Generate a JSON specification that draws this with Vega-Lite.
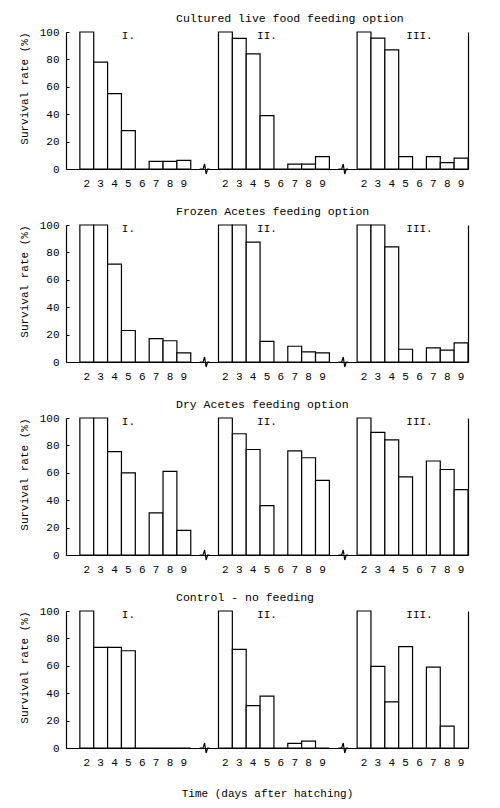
{
  "$schema": "https://vega.github.io/schema/vega-lite/v6.json",
  "background": "white",
  "padding": {"left": 18, "top": 12, "right": 5, "bottom": 5},
  "spacing": 17,
  "config": {
    "font": "Liberation Mono",
    "view": {"stroke": null},
    "title": {"font": "Liberation Mono", "fontSize": 11.5, "fontWeight": "normal", "color": "black", "anchor": "start", "frame": "group", "dx": 110, "offset": 2},
    "axis": {"labelFont": "Liberation Mono", "titleFont": "Liberation Mono", "labelColor": "black", "titleColor": "black", "domainColor": "black", "tickColor": "black", "labelFontSize": 11, "titleFontSize": 11, "titleFontWeight": "normal", "grid": false, "domainWidth": 1.2},
    "axisX": {"ticks": false, "labelAngle": 0, "labelPadding": 8, "titlePadding": 20, "labelExpr": "test(/\\d$/, datum.value) ? substring(datum.value, length(datum.value) - 1) : ''"},
    "axisLeft": {"values": [0, 20, 40, 60, 80, 100], "tickSize": -3, "labelPadding": 10, "titlePadding": 10, "titleAnchor": "end"},
    "axisRight": {"labels": false, "ticks": false, "title": null, "domain": true}
  },
  "datasets": {
    "bars": [
      {"panel": "A", "group": "I", "day": 2, "rate": 100}, {"panel": "A", "group": "I", "day": 3, "rate": 78}, {"panel": "A", "group": "I", "day": 4, "rate": 55}, {"panel": "A", "group": "I", "day": 5, "rate": 28}, {"panel": "A", "group": "I", "day": 6, "rate": 0}, {"panel": "A", "group": "I", "day": 7, "rate": 5.6}, {"panel": "A", "group": "I", "day": 8, "rate": 5.6}, {"panel": "A", "group": "I", "day": 9, "rate": 6.3},
      {"panel": "A", "group": "II", "day": 2, "rate": 100}, {"panel": "A", "group": "II", "day": 3, "rate": 95.4}, {"panel": "A", "group": "II", "day": 4, "rate": 84}, {"panel": "A", "group": "II", "day": 5, "rate": 39}, {"panel": "A", "group": "II", "day": 6, "rate": 0}, {"panel": "A", "group": "II", "day": 7, "rate": 3.6}, {"panel": "A", "group": "II", "day": 8, "rate": 3.6}, {"panel": "A", "group": "II", "day": 9, "rate": 9},
      {"panel": "A", "group": "III", "day": 2, "rate": 100}, {"panel": "A", "group": "III", "day": 3, "rate": 95.6}, {"panel": "A", "group": "III", "day": 4, "rate": 87}, {"panel": "A", "group": "III", "day": 5, "rate": 9}, {"panel": "A", "group": "III", "day": 6, "rate": 0}, {"panel": "A", "group": "III", "day": 7, "rate": 9}, {"panel": "A", "group": "III", "day": 8, "rate": 4.6}, {"panel": "A", "group": "III", "day": 9, "rate": 8},
      {"panel": "B", "group": "I", "day": 2, "rate": 100}, {"panel": "B", "group": "I", "day": 3, "rate": 100}, {"panel": "B", "group": "I", "day": 4, "rate": 71.5}, {"panel": "B", "group": "I", "day": 5, "rate": 23}, {"panel": "B", "group": "I", "day": 6, "rate": 0}, {"panel": "B", "group": "I", "day": 7, "rate": 17}, {"panel": "B", "group": "I", "day": 8, "rate": 15.5}, {"panel": "B", "group": "I", "day": 9, "rate": 6.6},
      {"panel": "B", "group": "II", "day": 2, "rate": 100}, {"panel": "B", "group": "II", "day": 3, "rate": 100}, {"panel": "B", "group": "II", "day": 4, "rate": 87.5}, {"panel": "B", "group": "II", "day": 5, "rate": 15}, {"panel": "B", "group": "II", "day": 6, "rate": 0}, {"panel": "B", "group": "II", "day": 7, "rate": 11.5}, {"panel": "B", "group": "II", "day": 8, "rate": 7.4}, {"panel": "B", "group": "II", "day": 9, "rate": 6.6},
      {"panel": "B", "group": "III", "day": 2, "rate": 100}, {"panel": "B", "group": "III", "day": 3, "rate": 100}, {"panel": "B", "group": "III", "day": 4, "rate": 84}, {"panel": "B", "group": "III", "day": 5, "rate": 9.3}, {"panel": "B", "group": "III", "day": 6, "rate": 0}, {"panel": "B", "group": "III", "day": 7, "rate": 10.3}, {"panel": "B", "group": "III", "day": 8, "rate": 8.6}, {"panel": "B", "group": "III", "day": 9, "rate": 14},
      {"panel": "C", "group": "I", "day": 2, "rate": 100}, {"panel": "C", "group": "I", "day": 3, "rate": 100}, {"panel": "C", "group": "I", "day": 4, "rate": 75.5}, {"panel": "C", "group": "I", "day": 5, "rate": 60}, {"panel": "C", "group": "I", "day": 6, "rate": 0}, {"panel": "C", "group": "I", "day": 7, "rate": 30.7}, {"panel": "C", "group": "I", "day": 8, "rate": 61}, {"panel": "C", "group": "I", "day": 9, "rate": 18},
      {"panel": "C", "group": "II", "day": 2, "rate": 100}, {"panel": "C", "group": "II", "day": 3, "rate": 88.5}, {"panel": "C", "group": "II", "day": 4, "rate": 77}, {"panel": "C", "group": "II", "day": 5, "rate": 36}, {"panel": "C", "group": "II", "day": 6, "rate": 0}, {"panel": "C", "group": "II", "day": 7, "rate": 76}, {"panel": "C", "group": "II", "day": 8, "rate": 71}, {"panel": "C", "group": "II", "day": 9, "rate": 54.4},
      {"panel": "C", "group": "III", "day": 2, "rate": 100}, {"panel": "C", "group": "III", "day": 3, "rate": 89.5}, {"panel": "C", "group": "III", "day": 4, "rate": 84}, {"panel": "C", "group": "III", "day": 5, "rate": 57}, {"panel": "C", "group": "III", "day": 6, "rate": 0}, {"panel": "C", "group": "III", "day": 7, "rate": 68.6}, {"panel": "C", "group": "III", "day": 8, "rate": 62.4}, {"panel": "C", "group": "III", "day": 9, "rate": 47.7},
      {"panel": "D", "group": "I", "day": 2, "rate": 100}, {"panel": "D", "group": "I", "day": 3, "rate": 73.4}, {"panel": "D", "group": "I", "day": 4, "rate": 73.4}, {"panel": "D", "group": "I", "day": 5, "rate": 71}, {"panel": "D", "group": "I", "day": 6, "rate": 0}, {"panel": "D", "group": "I", "day": 7, "rate": 0}, {"panel": "D", "group": "I", "day": 8, "rate": 0}, {"panel": "D", "group": "I", "day": 9, "rate": 0},
      {"panel": "D", "group": "II", "day": 2, "rate": 100}, {"panel": "D", "group": "II", "day": 3, "rate": 72}, {"panel": "D", "group": "II", "day": 4, "rate": 31}, {"panel": "D", "group": "II", "day": 5, "rate": 37.8}, {"panel": "D", "group": "II", "day": 6, "rate": 0}, {"panel": "D", "group": "II", "day": 7, "rate": 3.4}, {"panel": "D", "group": "II", "day": 8, "rate": 5}, {"panel": "D", "group": "II", "day": 9, "rate": 0},
      {"panel": "D", "group": "III", "day": 2, "rate": 100}, {"panel": "D", "group": "III", "day": 3, "rate": 59.6}, {"panel": "D", "group": "III", "day": 4, "rate": 33.6}, {"panel": "D", "group": "III", "day": 5, "rate": 74}, {"panel": "D", "group": "III", "day": 6, "rate": 0}, {"panel": "D", "group": "III", "day": 7, "rate": 59}, {"panel": "D", "group": "III", "day": 8, "rate": 16}, {"panel": "D", "group": "III", "day": 9, "rate": 0}
    ],
    "labels": [
      {"group": "I", "day": 5, "label": "I."},
      {"group": "II", "day": 5, "label": "II."},
      {"group": "III", "day": 6, "label": "III."}
    ],
    "breaks": [{"slot": "gb"}, {"slot": "gd"}]
  },
  "vconcat": [
    {
      "width": 402, "height": 137,
      "title": {"text": "Cultured live food feeding option"},
      "resolve": {"axis": {"y": "independent"}},
      "layer": [
        {
          "data": {"name": "bars"},
          "transform": [{"filter": "datum.panel === 'A'"}, {"calculate": "datum.group + datum.day", "as": "slot"}],
          "mark": {"type": "bar", "fill": "white", "stroke": "black", "strokeWidth": 1.2},
          "encoding": {
            "x": {"field": "slot", "type": "nominal", "title": null, "scale": {"domain": ["pa", "I2", "I3", "I4", "I5", "I6", "I7", "I8", "I9", "ga", "gb", "II2", "II3", "II4", "II5", "II6", "II7", "II8", "II9", "gc", "gd", "III2", "III3", "III4", "III5", "III6", "III7", "III8", "III9"], "paddingInner": 0, "paddingOuter": 0}},
            "y": {"field": "rate", "type": "quantitative", "title": "Survival rate (%)", "scale": {"domain": [0, 100]}, "axis": {"orient": "left"}}
          }
        },
        {
          "data": {"name": "labels"},
          "transform": [{"calculate": "datum.group + datum.day", "as": "slot"}],
          "mark": {"type": "text", "fontSize": 11, "color": "black", "baseline": "middle"},
          "encoding": {"x": {"field": "slot", "type": "nominal", "title": null}, "y": {"datum": 97, "type": "quantitative", "axis": null}, "text": {"field": "label"}}
        },
        {
          "data": {"name": "breaks"},
          "mark": {"type": "point", "shape": "M-1,0 L-0.3,0 L0,-1 L0.3,1 L0.6,0 L1,0", "filled": false, "stroke": "black", "strokeWidth": 1.2, "size": 100, "opacity": 1},
          "encoding": {"x": {"field": "slot", "type": "nominal", "bandPosition": 0, "title": null}, "y": {"datum": 0, "type": "quantitative", "axis": {"orient": "right"}}}
        }
      ]
    },
    {
      "width": 402, "height": 137,
      "title": {"text": "Frozen Acetes feeding option"},
      "resolve": {"axis": {"y": "independent"}},
      "layer": [
        {
          "data": {"name": "bars"},
          "transform": [{"filter": "datum.panel === 'B'"}, {"calculate": "datum.group + datum.day", "as": "slot"}],
          "mark": {"type": "bar", "fill": "white", "stroke": "black", "strokeWidth": 1.2},
          "encoding": {
            "x": {"field": "slot", "type": "nominal", "title": null, "scale": {"domain": ["pa", "I2", "I3", "I4", "I5", "I6", "I7", "I8", "I9", "ga", "gb", "II2", "II3", "II4", "II5", "II6", "II7", "II8", "II9", "gc", "gd", "III2", "III3", "III4", "III5", "III6", "III7", "III8", "III9"], "paddingInner": 0, "paddingOuter": 0}},
            "y": {"field": "rate", "type": "quantitative", "title": "Survival rate (%)", "scale": {"domain": [0, 100]}, "axis": {"orient": "left"}}
          }
        },
        {
          "data": {"name": "labels"},
          "transform": [{"calculate": "datum.group + datum.day", "as": "slot"}],
          "mark": {"type": "text", "fontSize": 11, "color": "black", "baseline": "middle"},
          "encoding": {"x": {"field": "slot", "type": "nominal", "title": null}, "y": {"datum": 97, "type": "quantitative", "axis": null}, "text": {"field": "label"}}
        },
        {
          "data": {"name": "breaks"},
          "mark": {"type": "point", "shape": "M-1,0 L-0.3,0 L0,-1 L0.3,1 L0.6,0 L1,0", "filled": false, "stroke": "black", "strokeWidth": 1.2, "size": 100, "opacity": 1},
          "encoding": {"x": {"field": "slot", "type": "nominal", "bandPosition": 0, "title": null}, "y": {"datum": 0, "type": "quantitative", "axis": {"orient": "right"}}}
        }
      ]
    },
    {
      "width": 402, "height": 137,
      "title": {"text": "Dry Acetes feeding option"},
      "resolve": {"axis": {"y": "independent"}},
      "layer": [
        {
          "data": {"name": "bars"},
          "transform": [{"filter": "datum.panel === 'C'"}, {"calculate": "datum.group + datum.day", "as": "slot"}],
          "mark": {"type": "bar", "fill": "white", "stroke": "black", "strokeWidth": 1.2},
          "encoding": {
            "x": {"field": "slot", "type": "nominal", "title": null, "scale": {"domain": ["pa", "I2", "I3", "I4", "I5", "I6", "I7", "I8", "I9", "ga", "gb", "II2", "II3", "II4", "II5", "II6", "II7", "II8", "II9", "gc", "gd", "III2", "III3", "III4", "III5", "III6", "III7", "III8", "III9"], "paddingInner": 0, "paddingOuter": 0}},
            "y": {"field": "rate", "type": "quantitative", "title": "Survival rate (%)", "scale": {"domain": [0, 100]}, "axis": {"orient": "left"}}
          }
        },
        {
          "data": {"name": "labels"},
          "transform": [{"calculate": "datum.group + datum.day", "as": "slot"}],
          "mark": {"type": "text", "fontSize": 11, "color": "black", "baseline": "middle"},
          "encoding": {"x": {"field": "slot", "type": "nominal", "title": null}, "y": {"datum": 97, "type": "quantitative", "axis": null}, "text": {"field": "label"}}
        },
        {
          "data": {"name": "breaks"},
          "mark": {"type": "point", "shape": "M-1,0 L-0.3,0 L0,-1 L0.3,1 L0.6,0 L1,0", "filled": false, "stroke": "black", "strokeWidth": 1.2, "size": 100, "opacity": 1},
          "encoding": {"x": {"field": "slot", "type": "nominal", "bandPosition": 0, "title": null}, "y": {"datum": 0, "type": "quantitative", "axis": {"orient": "right"}}}
        }
      ]
    },
    {
      "width": 402, "height": 137,
      "title": {"text": "Control - no feeding"},
      "resolve": {"axis": {"y": "independent"}},
      "layer": [
        {
          "data": {"name": "bars"},
          "transform": [{"filter": "datum.panel === 'D'"}, {"calculate": "datum.group + datum.day", "as": "slot"}],
          "mark": {"type": "bar", "fill": "white", "stroke": "black", "strokeWidth": 1.2},
          "encoding": {
            "x": {"field": "slot", "type": "nominal", "title": "Time (days after hatching)", "scale": {"domain": ["pa", "I2", "I3", "I4", "I5", "I6", "I7", "I8", "I9", "ga", "gb", "II2", "II3", "II4", "II5", "II6", "II7", "II8", "II9", "gc", "gd", "III2", "III3", "III4", "III5", "III6", "III7", "III8", "III9"], "paddingInner": 0, "paddingOuter": 0}},
            "y": {"field": "rate", "type": "quantitative", "title": "Survival rate (%)", "scale": {"domain": [0, 100]}, "axis": {"orient": "left"}}
          }
        },
        {
          "data": {"name": "labels"},
          "transform": [{"calculate": "datum.group + datum.day", "as": "slot"}],
          "mark": {"type": "text", "fontSize": 11, "color": "black", "baseline": "middle"},
          "encoding": {"x": {"field": "slot", "type": "nominal", "title": "Time (days after hatching)"}, "y": {"datum": 97, "type": "quantitative", "axis": null}, "text": {"field": "label"}}
        },
        {
          "data": {"name": "breaks"},
          "mark": {"type": "point", "shape": "M-1,0 L-0.3,0 L0,-1 L0.3,1 L0.6,0 L1,0", "filled": false, "stroke": "black", "strokeWidth": 1.2, "size": 100, "opacity": 1},
          "encoding": {"x": {"field": "slot", "type": "nominal", "bandPosition": 0, "title": "Time (days after hatching)"}, "y": {"datum": 0, "type": "quantitative", "axis": {"orient": "right"}}}
        }
      ]
    }
  ]
}
